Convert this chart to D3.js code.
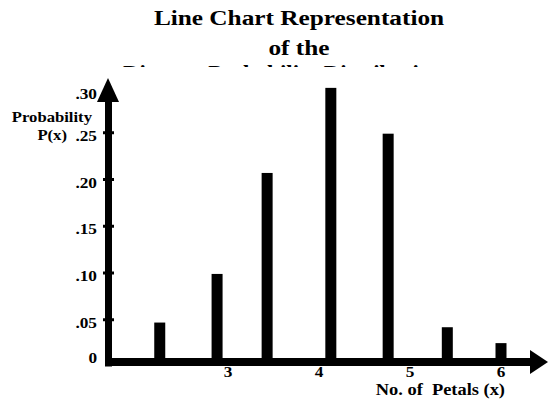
<!DOCTYPE html>
<html><head><meta charset="utf-8">
<script src="https://cdn.jsdelivr.net/npm/d3@7"></script>
<style>html,body{margin:0;padding:0;background:#fff}svg{display:block}</style>
</head><body>
<svg id="c" width="548" height="404"></svg>
<script>
const titleLines = ["Line Chart Representation", "of the", "Discrete Probability Distribution"];
const petals = [2.25, 2.88, 3.43, 4.13, 4.76, 5.41, 6.0];
const probs = [0.047, 0.099, 0.207, 0.298, 0.249, 0.042, 0.025];
const yTicks = [0, 0.05, 0.10, 0.15, 0.20, 0.25, 0.30];
const yTickLabels = ["0", ".05", ".10", ".15", ".20", ".25", ".30"];
const xTicks = [3, 4, 5, 6];
const xTickLabels = ["3", "4", "5", "6"];
const yTitle = ["Probability", "P(x)"];
const xTitle = "No. of\u00a0 Petals (x)";

const svg = d3.select("#c");
const FONT = "'Liberation Serif','Times New Roman',serif";
const SX = 1.15;

const x = d3.scaleLinear().domain([3, 6]).range([228, 501]);
const y = d3.scaleLinear().domain([0, 0.30]).range([366.5, 86]);

function txt(g, s, px, py, size, anchor) {
  return g.append("text")
    .attr("transform", `translate(${px},${py}) scale(${SX},1)`)
    .attr("text-anchor", anchor)
    .attr("font-family", FONT).attr("font-weight", "bold")
    .attr("font-size", size).attr("fill", "#000").text(s);
}

// Title
const tg = svg.append("g");
txt(tg, titleLines[0], 299, 25, 22, "middle");
txt(tg, titleLines[1], 299, 55, 22, "middle");
svg.append("defs").append("clipPath").attr("id", "tclip")
  .append("rect").attr("x", 0).attr("y", 40).attr("width", 548).attr("height", 27);
svg.append("g").attr("clip-path", "url(#tclip)")
  .append("text").attr("x", 123).attr("y", 79.5)
  .attr("textLength", 320).attr("lengthAdjust", "spacingAndGlyphs")
  .attr("font-family", FONT).attr("font-weight", "bold").attr("font-size", 22)
  .text(titleLines[2]);

// Bars
svg.append("g").selectAll("rect").data(petals).join("rect")
  .attr("x", (d) => x(d) - 5.5)
  .attr("y", (d, i) => y(probs[i]))
  .attr("width", 11)
  .attr("height", (d, i) => 362 - y(probs[i]))
  .attr("fill", "#000");

// Axes
const ax = svg.append("g");
ax.append("line").attr("x1", 108.5).attr("x2", 108.5).attr("y1", y(0)).attr("y2", 100)
  .attr("stroke", "#000").attr("stroke-width", 7);
ax.append("path").attr("d", "M97,102 L119,102 L108,78 Z").attr("fill", "#000");
ax.append("line").attr("x1", 105).attr("x2", 532).attr("y1", 362).attr("y2", 362)
  .attr("stroke", "#000").attr("stroke-width", 8);
ax.append("path").attr("d", "M530,350 L548,362 L530,374 Z").attr("fill", "#000");

// Y ticks
ax.selectAll("line.yt").data(yTicks.slice(1, 6)).join("line").attr("class", "yt")
  .attr("x1", 103).attr("x2", 114).attr("y1", (d) => y(d)).attr("y2", (d) => y(d))
  .attr("stroke", "#000").attr("stroke-width", 3);

const shift = (i) => (i === 0 ? -3.5 : i === yTicks.length - 1 ? 13 : 8);
yTicks.forEach((v, i) => txt(ax, yTickLabels[i], 97, y(v) + shift(i), 15, "end"));
xTicks.forEach((v, i) => txt(ax, xTickLabels[i], x(v), 377, 15, "middle"));

txt(ax, yTitle[0], 92, 122, 14.5, "end");
txt(ax, yTitle[1], 67, 140, 14.5, "end");
txt(ax, xTitle, 505, 395, 16, "end");
</script>
</body></html>
